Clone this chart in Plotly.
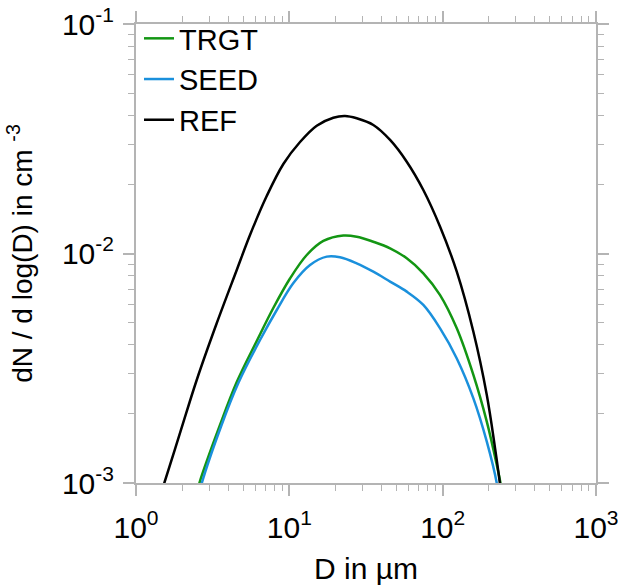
import plotly.graph_objects as go

# Diameter (µm) and dN/dlogD (cm^-3)
ref_d = [1.30, 1.530, 1.951, 2.489, 3.36, 4.54, 5.54, 7.12, 9.14, 11.74, 15.09, 19.36, 23.09,
         27.5, 35.3, 45.4, 58.3, 74.8, 96.2, 123.6, 158.6, 194.0, 219.7, 236.8, 245.0]
ref_n = [0.00072, 0.00100, 0.001677, 0.002811, 0.004965, 0.008475, 0.01204, 0.01780, 0.02455,
         0.03060, 0.03604, 0.03906, 0.03973, 0.03882, 0.03630, 0.03124, 0.02512, 0.01891,
         0.01308, 0.00833, 0.00456, 0.002418, 0.001416, 0.000983, 0.00080]

trgt_d = [2.35, 2.587, 3.53, 4.54, 6.13, 7.86, 10.1, 12.99, 16.67, 22.5, 27.5, 35.3, 45.4,
          58.3, 74.8, 96.2, 123.6, 158.6, 194.0, 225.4, 239.3, 248.0]
trgt_n = [0.00078, 0.000997, 0.001789, 0.002754, 0.004157, 0.005788, 0.007783, 0.00985, 0.01134,
          0.01198, 0.01184, 0.01125, 0.01054, 0.00953, 0.00820, 0.00659, 0.00472, 0.002956,
          0.00185, 0.001198, 0.000983, 0.00082]

seed_d = [2.45, 2.683, 3.58, 4.65, 6.44, 8.28, 10.6, 13.65, 17.54, 21.4, 27.5, 35.3, 45.4,
          58.3, 74.8, 96.2, 123.6, 158.6, 194.0, 225.4, 235.0]
seed_n = [0.00078, 0.000997, 0.001759, 0.002727, 0.004199, 0.005673, 0.00742, 0.00891, 0.00969,
          0.00963, 0.00906, 0.00833, 0.00754, 0.00682, 0.00597, 0.00472, 0.00349, 0.002339,
          0.001514, 0.000997, 0.00080]

x_tickvals = [1, 10, 100, 1000]
x_ticktext = ["10<sup>0</sup>", "10<sup>1</sup>", "10<sup>2</sup>", "10<sup>3</sup>"]
y_tickvals = [0.001, 0.01, 0.1]
y_ticktext = ["10<sup>-3</sup>", "10<sup>-2</sup>", "10<sup>-1</sup>"]
x_minor = [m * 10 ** k for k in range(0, 3) for m in range(2, 10)]
y_minor = [m * 10.0 ** k for k in range(-3, -1) for m in range(2, 10)]

FONT = "Liberation Sans, Arial, Helvetica, sans-serif"
FRAME = "#b4b4b4"

fig = go.Figure()
fig.add_trace(go.Scatter(x=trgt_d, y=trgt_n, mode="lines", name="TRGT",
                         line=dict(color="#139613", width=2.5, shape="spline")))
fig.add_trace(go.Scatter(x=seed_d, y=seed_n, mode="lines", name="SEED",
                         line=dict(color="#1a90dc", width=2.5, shape="spline")))
fig.add_trace(go.Scatter(x=ref_d, y=ref_n, mode="lines", name="REF",
                         line=dict(color="#000000", width=2.5, shape="spline")))

axis_common = dict(
    showgrid=False, zeroline=False, automargin=False,
    showline=True, linecolor=FRAME, linewidth=2, mirror="ticks",
    ticks="outside", ticklen=11, tickwidth=1.5, tickcolor=FRAME,
    tickfont=dict(family=FONT, size=30, color="black"),
    ticklabeloverflow="allow",
)

fig.update_xaxes(type="log", range=[0, 3], tickmode="array",
                 tickvals=x_tickvals, ticktext=x_ticktext, ticklabelstandoff=6,
                 minor=dict(tickmode="array", tickvals=x_minor, ticks="outside", ticklen=6,
                            tickwidth=1, tickcolor=FRAME, showgrid=False),
                 title=dict(text="D in \u00b5m", font=dict(family=FONT, size=30, color="black"),
                            standoff=18),
                 **axis_common)
fig.update_yaxes(type="log", range=[-3, -1], tickmode="array",
                 tickvals=y_tickvals, ticktext=y_ticktext, ticklabelstandoff=3,
                 minor=dict(tickmode="array", tickvals=y_minor, ticks="outside", ticklen=6,
                            tickwidth=1, tickcolor=FRAME, showgrid=False),
                 title=dict(text="dN / d log(D) in cm <sup>-3</sup>",
                            font=dict(family=FONT, size=28, color="black"), standoff=21),
                 **axis_common)

fig.update_layout(
    width=618, height=585,
    margin=dict(l=136, r=22, t=24, b=102),
    plot_bgcolor="white", paper_bgcolor="white",
    font=dict(family=FONT, color="black"),
    showlegend=True,
    legend=dict(x=0.0065, y=1.024, xanchor="left", yanchor="top",
                bgcolor="rgba(0,0,0,0)", borderwidth=0,
                font=dict(family=FONT, size=29, color="black"),
                itemwidth=30, tracegroupgap=0),
)

# remove the default 8 px page margin so the figure fills the window exactly
fig.write_html("out.html", config={"displayModeBar": False},
               post_script="document.body.style.margin='0';document.body.style.overflow='hidden';")
